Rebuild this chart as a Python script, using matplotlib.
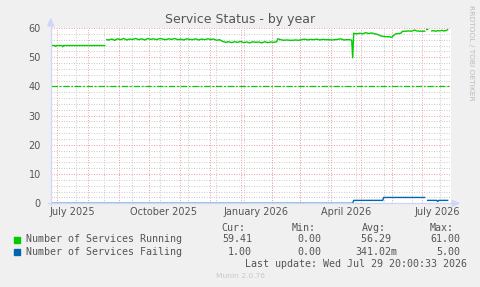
import numpy as np
import matplotlib
matplotlib.use("Agg")
import matplotlib.pyplot as plt
import matplotlib.dates as mdates
from matplotlib.lines import Line2D
from matplotlib.patches import Polygon, Rectangle
from datetime import datetime, timedelta

nan = float("nan")

# ---- data (day offsets from graph start) ----
start = datetime(2025, 6, 24, 20, 0)
end = start + timedelta(days=400)

run_day = [0, 4, 5, 6, 11, 12, 13, 20, 30, 40, 54, 55,
           56, 58, 61, 64, 67, 70, 73, 76, 79, 82, 85, 88, 91, 94, 97, 100,
           103, 106, 109, 112, 115, 118, 121, 124, 127, 130, 133, 136, 139,
           142, 145, 148, 151, 154, 157, 160, 163, 166, 169,
           172, 175, 178, 181, 184, 187, 190, 193, 196, 199, 202, 205, 208,
           211, 214, 217, 220, 223, 226,
           227, 228, 230, 233, 236, 239, 242, 245, 248,
           251, 254, 257, 260, 263, 266, 269, 272, 275, 278, 281,
           284, 287, 290, 293, 296, 299, 301, 302, 303,
           306, 309, 312, 315, 318, 321, 324, 327, 330, 333, 336, 339, 341,
           343, 345, 348, 350, 352, 355, 358, 361, 364, 366, 369, 372, 374,
           375, 376, 377, 378,
           381, 383, 385, 387, 389, 391, 393, 395, 397]
run_val = [54.0, 54.0, 53.7, 54.0, 54.0, 53.6, 54.0, 54.0, 54.0, 54.0, 54.0, nan,
           56.0, 55.9, 56.2, 55.8, 56.3, 56.0, 56.4, 55.9, 56.2, 56.1, 56.4, 56.0,
           56.3, 55.9, 56.4, 56.1,
           56.3, 56.0, 56.4, 56.2, 56.0, 56.3, 56.1, 56.4, 56.0, 56.2, 55.9, 56.3,
           56.1, 56.0, 56.3, 55.9, 56.2, 56.0, 56.3, 56.1, 56.2, 55.8, 56.0,
           55.4, 55.1, 55.3, 55.0, 55.3, 55.1, 55.4, 55.0, 55.2, 54.9, 55.3, 55.1,
           55.2, 54.9, 55.3, 55.0, 55.2, 55.1, 55.3,
           56.3, 56.2, 56.0, 55.8, 55.9, 55.8, 55.8, 55.9, 55.8,
           56.0, 56.2, 55.9, 56.1, 56.0, 56.2, 55.9, 56.1, 56.0, 56.0, 55.9,
           56.0, 56.1, 56.3, 55.9, 56.0, 56.0, 55.8, 49.8, 58.2,
           58.0, 58.2, 58.0, 58.4, 58.1, 58.3, 58.0, 57.8, 57.3, 57.1, 57.0, 57.0,
           56.8,
           57.5, 58.0, 58.1, 58.2, 58.9, 58.9, 59.0, 58.9, 59.3, 59.0, 58.9, 58.9,
           58.9,
           nan, 59.5, 59.5, nan,
           59.0, 59.1, 58.9, 59.1, 59.0, 59.2, 59.0, 59.1, 59.4]

fail_day = [0, 100, 200, 300, 302, 303, 320, 332, 333, 350, 374, 375,
            377, 382, 386, 387, 388, 393, 397]
fail_val = [0.0, 0.0, 0.0, 0.0, 0.0, 1.0, 1.0, 1.0, 2.0, 2.0, 2.0, nan,
            1.0, 1.0, 1.0, 0.6, 1.0, 1.0, 1.0]

warning_level = 40

months = [datetime(2025, m, 1) for m in range(7, 13)] + \
         [datetime(2026, m, 1) for m in range(1, 8)]
minor_start = datetime(2025, 7, 20)
tick_labels = ["July 2025", "October 2025", "January 2026", "April 2026", "July 2026"]
label_dates = [datetime(2025, 7, 16), datetime(2025, 10, 16), datetime(2026, 1, 16),
               datetime(2026, 4, 16), datetime(2026, 7, 16)]

legend_names = ["Number of Services Running", "Number of Services Failing"]
legend_colors = ["#00CC00", "#0066B3"]
cur_vals = ["59.41", "1.00"]
min_vals = ["0.00", "0.00"]
avg_vals = ["56.29 ", "341.02m"]
max_vals = ["61.00", "5.00"]

# ---- figure ----
W, H = 481, 287
fig = plt.figure(figsize=(W / 100, H / 100), dpi=100, facecolor="#F0F0F0")

def fx(x):
    return x / W

def fy(y):
    return 1 - y / H

ax_l, ax_r, ax_b, ax_t = 50.7, 450.7, 203.3, 28.0
ax = fig.add_axes([fx(ax_l), fy(ax_b), (ax_r - ax_l) / W, (ax_b - ax_t) / H])
ax.set_facecolor("white")
for s in ax.spines.values():
    s.set_visible(False)

ax.set_xlim(start, end)
ax.set_ylim(0, 60)

minor_col = "#CDCDCD"
major_col = "#EBA6A6"
dot = (0, (1, 1.5))
# horizontal grid
for v in range(0, 61, 2):
    if v % 10 != 0:
        ax.axhline(v, color=minor_col, lw=0.72, ls=dot, zorder=1)
for v in range(10, 61, 10):
    ax.axhline(v, color=major_col, lw=0.72, ls=dot, zorder=1.5)
# vertical grid
d = minor_start
while d < end:
    ax.axvline(d, color=minor_col, lw=0.72, ls=dot, zorder=1)
    d += timedelta(days=28)
for m in months:
    ax.axvline(m, color=major_col, lw=0.72, ls=dot, zorder=1.5)

ax.set_yticks(range(0, 61, 10))
ax.set_yticklabels([str(v) for v in range(0, 61, 10)])
ax.set_xticks(label_dates)
ax.set_xticklabels(tick_labels)
ax.tick_params(axis="both", length=0, labelsize=7, labelcolor="#555555")
ax.tick_params(axis="y", pad=7)
ax.tick_params(axis="x", pad=3)

# warning line
ax.axhline(warning_level, color="#00CC00", lw=0.9,
           dashes=(5, 1.5, 1.4, 1.5), zorder=3)

# data
run_t = [start + timedelta(days=dd) for dd in run_day]
fail_t = [start + timedelta(days=dd) for dd in fail_day]
ax.plot(run_t, run_val, color="#00CC00", lw=1.0, zorder=4)
ax.plot(fail_t, fail_val, color="#0066B3", lw=1.0, zorder=4)

# axes lines + arrows (rrdtool style)
axis_col = "#CFD6F8"
fig.add_artist(Line2D([fx(ax_l), fx(ax_l)], [fy(ax_b + 2), fy(22)],
                      color=axis_col, lw=0.9, zorder=5))
fig.add_artist(Line2D([fx(ax_l - 3), fx(454)], [fy(ax_b), fy(ax_b)],
                      color=axis_col, lw=0.9, zorder=5))
fig.add_artist(Polygon([[fx(ax_l - 3), fy(26)], [fx(ax_l + 3), fy(26)], [fx(ax_l), fy(19)]],
                       closed=True, color=axis_col, zorder=5))
fig.add_artist(Polygon([[fx(452), fy(ax_b - 3)], [fx(452), fy(ax_b + 3)], [fx(459), fy(ax_b)]],
                       closed=True, color=axis_col, zorder=5))

# title
fig.text(fx(240.5), fy(19), "Service Status - by year", ha="center", va="center",
         fontsize=9, color="#555555", family="DejaVu Sans")
# watermark
fig.text(fx(471.5), fy(5), "RRDTOOL / TOBI OETIKER", rotation=270, ha="center", va="top",
         fontsize=5.4, color="#BBBBBB", family="DejaVu Sans")

# legend
mono = "DejaVu Sans Mono"
lfs = 7.2
tc = "#555555"
fig.text(fx(221.7), fy(228), "Cur:", ha="left", va="center", fontsize=lfs, family=mono, color=tc)
fig.text(fx(291.7), fy(228), "Min:", ha="left", va="center", fontsize=lfs, family=mono, color=tc)
fig.text(fx(361.7), fy(228), "Avg:", ha="left", va="center", fontsize=lfs, family=mono, color=tc)
fig.text(fx(430.0), fy(228), "Max:", ha="left", va="center", fontsize=lfs, family=mono, color=tc)
rows_y = [239.5, 251.7]
for i in range(2):
    y = rows_y[i]
    fig.add_artist(Rectangle((fx(14), fy(y + 3)), 6 / W, 6 / H, color=legend_colors[i], zorder=5))
    fig.text(fx(26), fy(y), legend_names[i], ha="left", va="center", fontsize=lfs, family=mono, color=tc)
    fig.text(fx(252), fy(y), cur_vals[i], ha="right", va="center", fontsize=lfs, family=mono, color=tc)
    fig.text(fx(321), fy(y), min_vals[i], ha="right", va="center", fontsize=lfs, family=mono, color=tc)
    fig.text(fx(397), fy(y), avg_vals[i], ha="right", va="center", fontsize=lfs, family=mono, color=tc)
    fig.text(fx(460.7), fy(y), max_vals[i], ha="right", va="center", fontsize=lfs, family=mono, color=tc)
fig.text(fx(467), fy(264), "Last update: Wed Jul 29 20:00:33 2026", ha="right", va="center",
         fontsize=lfs, family=mono, color=tc)
fig.text(fx(240.5), fy(276), "Munin 2.0.76", ha="center", va="center",
         fontsize=5.4, color="#C8C8C8", family="DejaVu Sans")

fig.savefig("out.png", dpi=100, facecolor=fig.get_facecolor())
